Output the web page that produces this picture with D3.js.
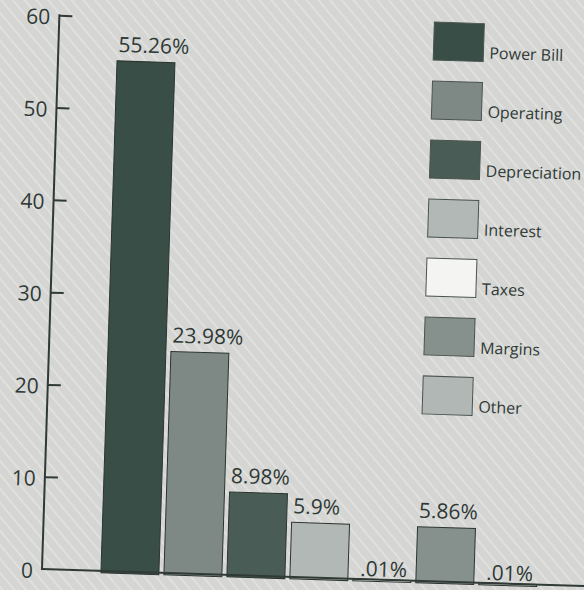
<!DOCTYPE html>
<html>
<head>
<meta charset="utf-8">
<script src="https://cdn.jsdelivr.net/npm/d3@7"></script>
<style>
  html, body { margin: 0; padding: 0; background: #d6d7d4; }
  svg { display: block; }
</style>
</head>
<body>
<script>
const categories = ["Power Bill", "Operating", "Depreciation", "Interest", "Taxes", "Margins", "Other"];
const values = [55.26, 23.98, 8.98, 5.9, 0.01, 5.86, 0.01];
const valueLabels = ["55.26%", "23.98%", "8.98%", "5.9%", ".01%", "5.86%", ".01%"];
const yTicks = [0, 10, 20, 30, 40, 50, 60];
const colors = ["#3a4e48", "#7e8985", "#4a5c56", "#b2b8b5", "#f4f5f2", "#86908c", "#b1b7b4"];

const W = 584, H = 590;
const svg = d3.select("body").append("svg").attr("width", W).attr("height", H);

// background with faint diagonal hatching (scanned paper look)
const defs = svg.append("defs");
const pat = defs.append("pattern").attr("id", "hatch").attr("patternUnits", "userSpaceOnUse")
  .attr("width", 9).attr("height", 9).attr("patternTransform", "rotate(-40)");
pat.append("rect").attr("width", 9).attr("height", 9).attr("fill", "#d5d6d3");
pat.append("line").attr("x1", 0).attr("y1", 0).attr("x2", 0).attr("y2", 9)
  .attr("stroke", "#e3e4e1").attr("stroke-width", 3);
svg.append("rect").attr("width", W).attr("height", H).attr("fill", "url(#hatch)");

// slight scan rotation about the axis origin
const ox = 42, oy = 569;
const g = svg.append("g").attr("transform", `rotate(1.8, ${ox}, ${oy})`);

const y = d3.scaleLinear().domain([0, 60]).range([oy, 15]);
const x = d3.scaleBand().domain(categories).range([98.5, 98.5 + 7 * 63])
  .paddingInner(0.08).paddingOuter(0.04);

const ink = "#2f3936";
const font = "'Open Sans', 'Noto Sans', sans-serif";

// bars
g.selectAll("rect.bar").data(categories).join("rect")
  .attr("class", "bar")
  .attr("x", d => x(d))
  .attr("y", (d, i) => y(values[i]))
  .attr("width", x.bandwidth())
  .attr("height", (d, i) => y(0) - y(values[i]) + 2)
  .attr("fill", (d, i) => colors[i])
  .attr("stroke", "#2c3431").attr("stroke-width", 1);

// value labels
g.selectAll("text.val").data(categories).join("text")
  .attr("class", "val")
  .attr("x", (d, i) => x(d) + (values[i] < 1 ? 7 : 1))
  .attr("y", (d, i) => y(values[i]) - (values[i] < 1 ? 3 : 9))
  .attr("text-anchor", "start")
  .attr("font-family", font).attr("font-size", 21)
  .attr("fill", ink)
  .text((d, i) => valueLabels[i]);

// y axis
const axis = d3.axisRight(y).tickValues(yTicks).tickSize(13).tickFormat("");
const ag = g.append("g").attr("transform", `translate(${ox},0)`).call(axis);
ag.select(".domain").remove();
ag.selectAll(".tick line").attr("stroke", ink).attr("stroke-width", 2);
ag.selectAll(".tick").filter(d => d === 0).remove();
g.append("line").attr("x1", ox).attr("x2", 620).attr("y1", oy).attr("y2", oy)
  .attr("stroke", ink).attr("stroke-width", 2);
g.append("line").attr("x1", ox).attr("x2", ox).attr("y1", y(60) - 1).attr("y2", oy + 1)
  .attr("stroke", ink).attr("stroke-width", 2);
g.selectAll("text.tick").data(yTicks).join("text")
  .attr("class", "tick")
  .attr("x", ox - 9).attr("y", d => y(d))
  .attr("dy", "0.44em")
  .attr("text-anchor", "end")
  .attr("font-family", font).attr("font-size", 21)
  .attr("fill", ink)
  .text(d => d);

// legend
const lg = g.append("g").attr("transform", "translate(417,10)");
const item = lg.selectAll("g").data(categories).join("g")
  .attr("transform", (d, i) => `translate(0, ${i * 59})`);
item.append("rect").attr("width", 50).attr("height", 38)
  .attr("fill", (d, i) => colors[i])
  .attr("stroke", "#4a5350").attr("stroke-width", 1);
item.append("text").attr("x", 56).attr("y", 35)
  .attr("font-family", font).attr("font-size", 16)
  .attr("fill", ink)
  .text(d => d);
</script>
</body>
</html>
